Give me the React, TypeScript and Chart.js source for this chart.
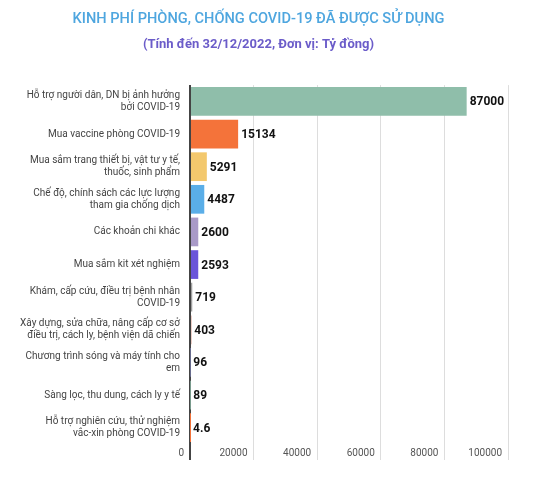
import React, { useEffect, useRef } from "react";
import { Chart, registerables } from "chart.js";

Chart.register(...registerables);

const TITLE = "KINH PHÍ PHÒNG, CHỐNG COVID-19 ĐÃ ĐƯỢC SỬ DỤNG";
const SUBTITLE = "(Tính đến 32/12/2022, Đơn vị: Tỷ đồng)";

const categories: (string | string[])[] = [
  ["Hỗ trợ người dân, DN bị ảnh hưởng", "bởi COVID-19"],
  "Mua vaccine phòng COVID-19",
  ["Mua sắm trang thiết bị, vật tư y tế,", "thuốc, sinh phẩm"],
  ["Chế độ, chính sách các lực lượng", "tham gia chống dịch"],
  "Các khoản chi khác",
  "Mua sắm kit xét nghiệm",
  ["Khám, cấp cứu, điều trị bệnh nhân", "COVID-19"],
  ["Xây dựng, sửa chữa, nâng cấp cơ sở", "điều trị, cách ly, bệnh viện dã chiến"],
  ["Chương trình sóng và máy tính cho", "em"],
  "Sàng lọc, thu dung, cách ly y tế",
  ["Hỗ trợ nghiên cứu, thử nghiệm", "vắc-xin phòng COVID-19"],
];

const values: number[] = [87000, 15134, 5291, 4487, 2600, 2593, 719, 403, 96, 89, 4.6];
const valueLabels: string[] = ["87000", "15134", "5291", "4487", "2600", "2593", "719", "403", "96", "89", "4.6"];

const barColors: string[] = [
  "#8fbeaa",
  "#f4733a",
  "#f3c86d",
  "#5aaee8",
  "#a99ac8",
  "#6a55d9",
  "#a0a0a0",
  "#c0563f",
  "#7a7fb0",
  "#8fbeaa",
  "#f4733a",
];

const X_MIN = 0;
const X_MAX = 100000;
const X_STEP = 20000;

const valueLabelPlugin = {
  id: "valueLabels",
  afterDatasetsDraw(chart: any) {
    const ctx = chart.ctx;
    const meta = chart.getDatasetMeta(0);
    ctx.save();
    ctx.font = "bold 12px Roboto";
    ctx.fillStyle = "#111111";
    ctx.textAlign = "left";
    ctx.textBaseline = "middle";
    meta.data.forEach((bar: any, i: number) => {
      ctx.fillText(valueLabels[i], bar.x + 3, bar.y + 1);
    });
    ctx.restore();
  },
};

export default function App() {
  const ref = useRef<HTMLCanvasElement | null>(null);

  useEffect(() => {
    if (!ref.current) return;
    const chart = new Chart(ref.current, {
      type: "bar",
      data: {
        labels: categories,
        datasets: [
          {
            data: values,
            backgroundColor: barColors,
            borderWidth: 0,
            barPercentage: 0.88,
            categoryPercentage: 1,
          },
        ],
      },
      options: {
        indexAxis: "y",
        responsive: false,
        animation: false,
        devicePixelRatio: 1,
        layout: { padding: { left: 9, right: 26, top: 0, bottom: 0 } },
        plugins: {
          legend: { display: false },
          tooltip: { enabled: false },
          title: {
            display: true,
            text: TITLE,
            color: "#4ea6df",
            font: { family: "Roboto", size: 14.6, weight: "500" as any },
            padding: { top: 11, bottom: 0 },
          },
          subtitle: {
            display: true,
            text: SUBTITLE,
            color: "#6b5cc9",
            font: { family: "Roboto", size: 13, weight: "bold" },
            padding: { top: 8, bottom: 33 },
          },
        },
        scales: {
          x: {
            min: X_MIN,
            max: X_MAX,
            border: { display: false },
            grid: {
              color: (c: any) => (c.tick && c.tick.value === 0 ? "#444444" : "#dddddd"),
              lineWidth: (c: any) => (c.tick && c.tick.value === 0 ? 2 : 1),
              drawTicks: true,
              tickLength: 16,
            },
            ticks: {
              stepSize: X_STEP,
              align: "end",
              labelOffset: -6,
              padding: -13,
              color: "#555555",
              font: { family: "Roboto", size: 10 },
              maxRotation: 0,
              callback: (v: any) => String(v),
            },
            afterFit: (s: any) => {
              s.height = 42;
            },
          },
          y: {
            border: { display: false },
            grid: { display: false, drawTicks: false },
            ticks: {
              padding: 10,
              color: "#444444",
              font: { family: "Roboto", size: 10 },
            },
            afterFit: (s: any) => {
              s.width = 181;
            },
          },
        },
      },
      plugins: [valueLabelPlugin],
    });
    return () => chart.destroy();
  }, []);

  return (
    <div style={{ position: "absolute", left: 0, top: 0, width: 534, height: 486, background: "#ffffff" }}>
      <canvas ref={ref} width={534} height={486} />
    </div>
  );
}
